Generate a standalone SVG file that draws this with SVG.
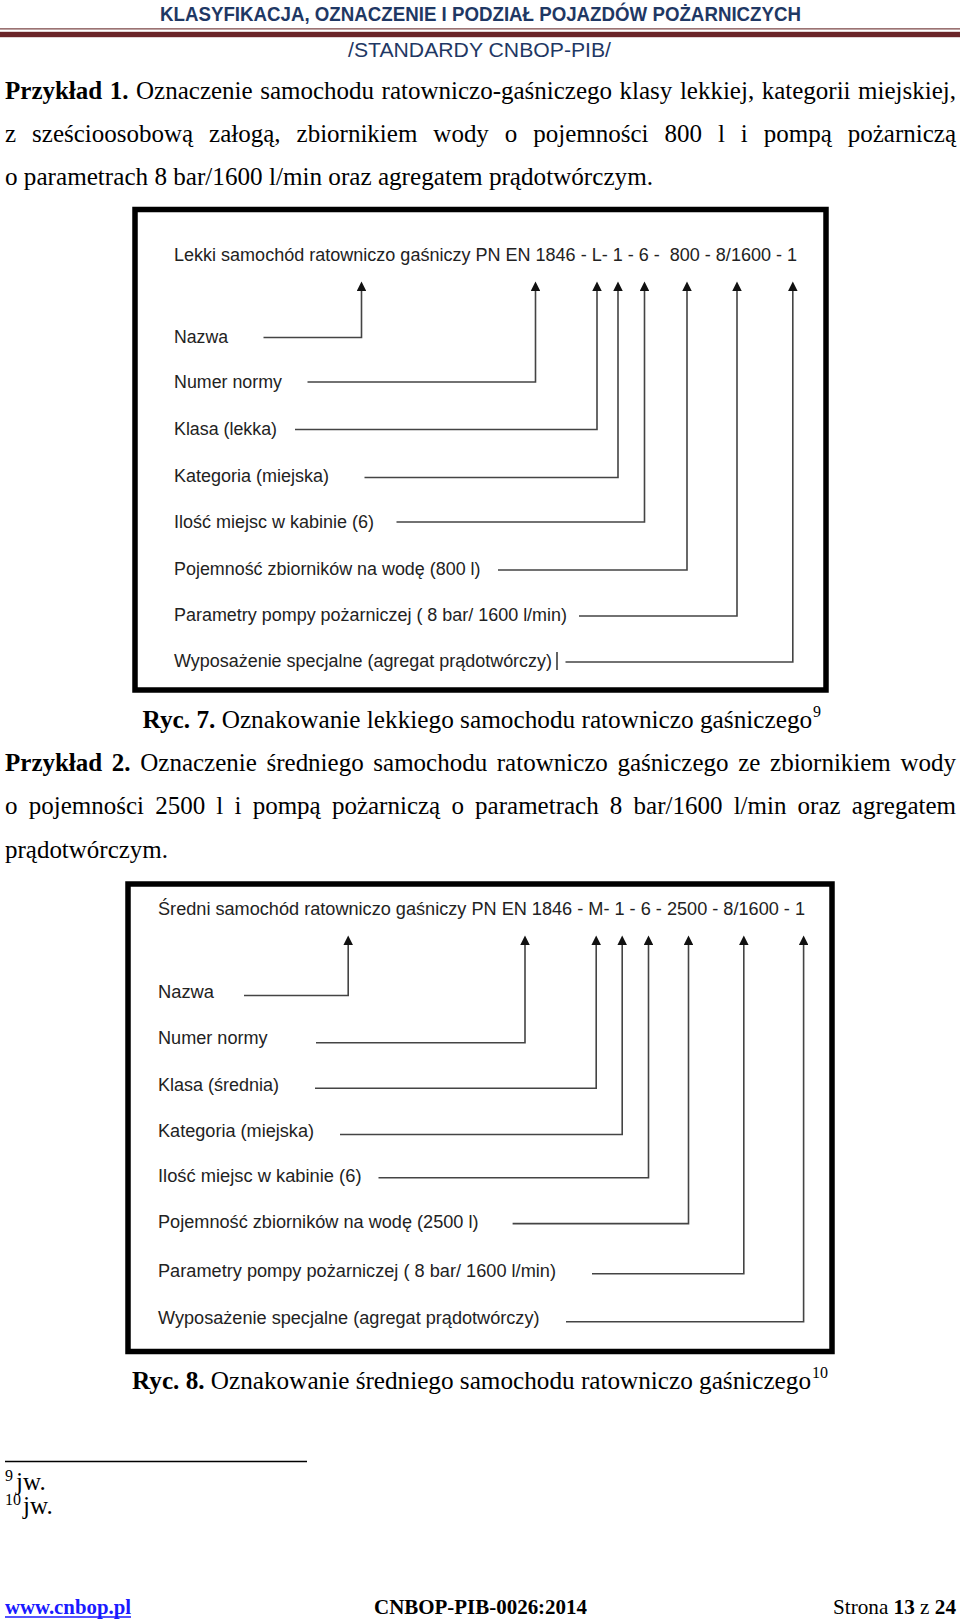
<svg xmlns="http://www.w3.org/2000/svg" width="960" height="1621" viewBox="0 0 960 1621">
<defs>
<marker id="ah" viewBox="0 0 10 10" refX="0" refY="5" markerWidth="10.5" markerHeight="9.5" markerUnits="userSpaceOnUse" orient="auto"><path d="M0,0 L10,5 L0,10 Z" fill="#111"/></marker>
</defs>
<style>
.hd{font-family:"Liberation Sans",Arial,sans-serif;fill:#1f3864}
.body{font-family:"Liberation Serif","Times New Roman",serif;font-size:25px;fill:#000}
.b{font-weight:bold}
.sup{font-family:"Liberation Serif","Times New Roman",serif;font-size:16px;fill:#000}
.lbl{font-family:"Liberation Sans",Arial,sans-serif;font-size:17.5px;fill:#222}
.con{fill:none;stroke:#444;stroke-width:1.6;marker-end:url(#ah)}
.frame{fill:#fff;stroke:#000;stroke-width:5.5}
.foot{font-family:"Liberation Serif","Times New Roman",serif;font-size:21px;fill:#000}
</style>
<rect x="0" y="0" width="960" height="1621" fill="#fff"/>

<g id="header">
<text class="hd b" x="160" y="20.5" font-size="20.5" textLength="641" lengthAdjust="spacingAndGlyphs">KLASYFIKACJA, OZNACZENIE I PODZIAŁ POJAZDÓW POŻARNICZYCH</text>
<line x1="0" y1="28.8" x2="960" y2="28.8" stroke="#7a4444" stroke-width="1.2"/>
<rect x="0" y="31.8" width="960" height="5.4" fill="#6b2529"/>
<text class="hd" x="348" y="56.5" font-size="20" textLength="263" lengthAdjust="spacingAndGlyphs">/STANDARDY CNBOP-PIB/</text>
</g>

<g id="example1">
<text class="body" x="5" y="99" word-spacing="1.3" textLength="951" lengthAdjust="spacing"><tspan class="b">Przykład 1.</tspan> Oznaczenie samochodu ratowniczo-gaśniczego klasy lekkiej, kategorii miejskiej,</text>
<text class="body" x="5" y="141.5" word-spacing="9.7" textLength="951" lengthAdjust="spacing">z sześcioosobową załogą, zbiornikiem wody o pojemności 800 l i pompą pożarniczą</text>
<text class="body" x="5" y="185" textLength="648" lengthAdjust="spacingAndGlyphs">o parametrach 8 bar/1600 l/min oraz agregatem prądotwórczym.</text>
</g>

<g id="fig7">
<rect class="frame" x="135" y="209.5" width="691" height="480.5"/>
<g id="fig7-title"><text class="lbl" x="174" y="261" textLength="623" lengthAdjust="spacingAndGlyphs" style="white-space:pre">Lekki samochód ratowniczo gaśniczy PN EN 1846 - L- 1 - 6 -  800 - 8/1600 - 1</text></g>
<g id="fig7-nazwa"><text class="lbl" x="174" y="343" textLength="54" lengthAdjust="spacingAndGlyphs">Nazwa</text></g>
<g id="fig7-norma"><text class="lbl" x="174" y="388" textLength="108" lengthAdjust="spacingAndGlyphs">Numer normy</text></g>
<g id="fig7-klasa"><text class="lbl" x="174" y="435" textLength="103" lengthAdjust="spacingAndGlyphs">Klasa (lekka)</text></g>
<g id="fig7-kategoria"><text class="lbl" x="174" y="482" textLength="155" lengthAdjust="spacingAndGlyphs">Kategoria (miejska)</text></g>
<g id="fig7-miejsca"><text class="lbl" x="174" y="528" textLength="200" lengthAdjust="spacingAndGlyphs">Ilość miejsc w kabinie (6)</text></g>
<g id="fig7-pojemnosc"><text class="lbl" x="174" y="575" textLength="306.5" lengthAdjust="spacingAndGlyphs">Pojemność zbiorników na wodę (800 l)</text></g>
<g id="fig7-pompa"><text class="lbl" x="174" y="621" textLength="393" lengthAdjust="spacingAndGlyphs">Parametry pompy pożarniczej ( 8 bar/ 1600 l/min)</text></g>
<g id="fig7-wyposazenie"><text class="lbl" x="174" y="667" textLength="378" lengthAdjust="spacingAndGlyphs">Wyposażenie specjalne (agregat prądotwórczy)</text>
<line x1="557" y1="652" x2="557" y2="670" stroke="#222" stroke-width="1.4"/></g>
<g id="fig7-connectors">
<path class="con" d="M263.5,337.5 H361.5 V291"/>
<path class="con" d="M307.5,382 H535.5 V291"/>
<path class="con" d="M295,429.5 H597 V291"/>
<path class="con" d="M364.5,477.5 H618 V291"/>
<path class="con" d="M396.5,522 H644.5 V291"/>
<path class="con" d="M498,570 H687 V291"/>
<path class="con" d="M579,616 H737 V291"/>
<path class="con" d="M565.5,662 H792.8 V291"/>
</g>
</g>

<g id="caption7">
<text class="body" x="142.6" y="727.5" textLength="669.6" lengthAdjust="spacingAndGlyphs"><tspan class="b">Ryc. 7.</tspan> Oznakowanie lekkiego samochodu ratowniczo gaśniczego</text>
<text class="sup" x="813" y="717">9</text>
</g>

<g id="example2">
<text class="body" x="5" y="771" word-spacing="3.4" textLength="951" lengthAdjust="spacing"><tspan class="b">Przykład 2.</tspan> Oznaczenie średniego samochodu ratowniczo gaśniczego ze zbiornikiem wody</text>
<text class="body" x="5" y="814" word-spacing="4.95" textLength="951" lengthAdjust="spacing">o pojemności 2500 l i pompą pożarniczą o parametrach 8 bar/1600 l/min oraz agregatem</text>
<text class="body" x="5" y="857.5" textLength="163" lengthAdjust="spacingAndGlyphs">prądotwórczym.</text>
</g>

<g id="fig8">
<rect class="frame" x="128" y="884" width="704" height="467.5"/>
<g id="fig8-title"><text class="lbl" x="158" y="915" textLength="647" lengthAdjust="spacingAndGlyphs">Średni samochód ratowniczo gaśniczy PN EN 1846 - M- 1 - 6 - 2500 - 8/1600 - 1</text></g>
<g id="fig8-nazwa"><text class="lbl" x="158" y="997.5" textLength="56" lengthAdjust="spacingAndGlyphs">Nazwa</text></g>
<g id="fig8-norma"><text class="lbl" x="158" y="1044" textLength="109.6" lengthAdjust="spacingAndGlyphs">Numer normy</text></g>
<g id="fig8-klasa"><text class="lbl" x="158" y="1090.5" textLength="121" lengthAdjust="spacingAndGlyphs">Klasa (średnia)</text></g>
<g id="fig8-kategoria"><text class="lbl" x="158" y="1137" textLength="156" lengthAdjust="spacingAndGlyphs">Kategoria (miejska)</text></g>
<g id="fig8-miejsca"><text class="lbl" x="158" y="1181.5" textLength="203.5" lengthAdjust="spacingAndGlyphs">Ilość miejsc w kabinie (6)</text></g>
<g id="fig8-pojemnosc"><text class="lbl" x="158" y="1228" textLength="320.5" lengthAdjust="spacingAndGlyphs">Pojemność zbiorników na wodę (2500 l)</text></g>
<g id="fig8-pompa"><text class="lbl" x="158" y="1276.5" textLength="398" lengthAdjust="spacingAndGlyphs">Parametry pompy pożarniczej ( 8 bar/ 1600 l/min)</text></g>
<g id="fig8-wyposazenie"><text class="lbl" x="158" y="1324" textLength="381.5" lengthAdjust="spacingAndGlyphs">Wyposażenie specjalne (agregat prądotwórczy)</text></g>
<g id="fig8-connectors">
<path class="con" d="M244,995.5 H348.2 V945"/>
<path class="con" d="M316,1042.7 H525 V945"/>
<path class="con" d="M315,1088.2 H596.2 V945"/>
<path class="con" d="M340,1134.5 H622.2 V945"/>
<path class="con" d="M378.5,1177.7 H648.5 V945"/>
<path class="con" d="M512.6,1223.6 H688.5 V945"/>
<path class="con" d="M592,1273.7 H743.8 V945"/>
<path class="con" d="M566,1321.7 H803.6 V945"/>
</g>
</g>

<g id="caption8">
<text class="body" x="132" y="1389" textLength="679" lengthAdjust="spacingAndGlyphs"><tspan class="b">Ryc. 8.</tspan> Oznakowanie średniego samochodu ratowniczo gaśniczego</text>
<text class="sup" x="812" y="1378" textLength="16" lengthAdjust="spacingAndGlyphs">10</text>
</g>

<g id="footnotes">
<line x1="5" y1="1461.5" x2="307" y2="1461.5" stroke="#000" stroke-width="1.4"/>
<text class="sup" x="5" y="1481" font-size="12.5">9</text>
<text class="body" x="16" y="1490" font-size="20.5">jw.</text>
<text class="sup" x="5" y="1504.5" font-size="12.5">10</text>
<text class="body" x="23" y="1514" font-size="20.5">jw.</text>
</g>

<g id="footer">
<text class="foot b" x="5" y="1614" textLength="126" lengthAdjust="spacingAndGlyphs" style="fill:#1a1aff">www.cnbop.pl</text>
<line x1="5" y1="1617" x2="131" y2="1617" stroke="#1a1aff" stroke-width="1.4"/>
<text class="foot b" x="374" y="1614" textLength="213" lengthAdjust="spacingAndGlyphs">CNBOP-PIB-0026:2014</text>
<text class="foot" x="833" y="1614" textLength="123" lengthAdjust="spacingAndGlyphs">Strona <tspan class="b">13</tspan> z <tspan class="b">24</tspan></text>
</g>
</svg>
